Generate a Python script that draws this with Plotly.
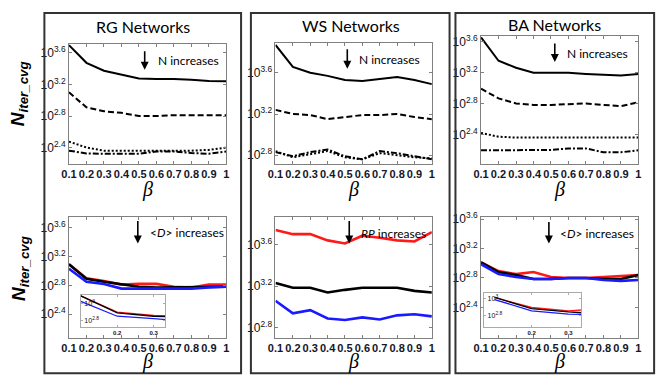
import numpy as np
import plotly.graph_objects as go

W, H = 664, 382

beta = [0.1, 0.2, 0.3, 0.4, 0.5, 0.6, 0.7, 0.8, 0.9, 1.0]
beta_labels = ["0.1", "0.2", "0.3", "0.4", "0.5", "0.6", "0.7", "0.8", "0.9", "1"]

# log10(N_iter_cvg)
rg_solid = [3.70, 3.475, 3.375, 3.325, 3.275, 3.27, 3.27, 3.26, 3.245, 3.24]
rg_dash = [3.10, 2.91, 2.86, 2.84, 2.80, 2.80, 2.81, 2.81, 2.81, 2.81]
rg_dot = [2.475, 2.40, 2.36, 2.36, 2.36, 2.36, 2.36, 2.36, 2.37, 2.40]
rg_dashdot = [2.36, 2.325, 2.32, 2.32, 2.32, 2.35, 2.35, 2.33, 2.32, 2.35]

ws_solid = [3.87, 3.657, 3.60, 3.57, 3.53, 3.52, 3.54, 3.56, 3.53, 3.49]
ws_dash = [3.24, 3.20, 3.19, 3.15, 3.17, 3.19, 3.19, 3.20, 3.17, 3.15]
ws_dot = [2.84, 2.78, 2.81, 2.84, 2.78, 2.76, 2.82, 2.80, 2.78, 2.77]
ws_dashdot = [2.83, 2.79, 2.83, 2.855, 2.79, 2.76, 2.84, 2.82, 2.79, 2.76]

ba_solid = [3.65, 3.35, 3.26, 3.195, 3.195, 3.195, 3.18, 3.17, 3.16, 3.18]
ba_dash = [2.99, 2.865, 2.80, 2.78, 2.78, 2.79, 2.80, 2.78, 2.765, 2.815]
ba_dot = [2.42, 2.37, 2.36, 2.36, 2.36, 2.36, 2.36, 2.36, 2.36, 2.36]
ba_dashdot = [2.195, 2.195, 2.20, 2.20, 2.20, 2.22, 2.22, 2.17, 2.17, 2.195]

rg_red = [3.095, 2.90, 2.86, 2.81, 2.82, 2.82, 2.78, 2.77, 2.81, 2.81]
rg_black = [3.095, 2.89, 2.85, 2.81, 2.78, 2.77, 2.77, 2.77, 2.78, 2.78]
rg_blue = [3.03, 2.85, 2.82, 2.755, 2.755, 2.755, 2.755, 2.755, 2.77, 2.78]

ws_red = [3.74, 3.70, 3.70, 3.64, 3.61, 3.685, 3.665, 3.64, 3.63, 3.72]
ws_black = [3.23, 3.185, 3.185, 3.14, 3.165, 3.185, 3.185, 3.185, 3.155, 3.14]
ws_blue = [3.06, 2.94, 2.97, 2.89, 2.875, 2.90, 2.88, 2.92, 2.93, 2.91]

ba_red = [3.013, 2.893, 2.853, 2.88, 2.813, 2.80, 2.80, 2.813, 2.827, 2.84]
ba_black = [3.013, 2.88, 2.84, 2.787, 2.787, 2.80, 2.80, 2.787, 2.787, 2.84]
ba_blue = [2.987, 2.853, 2.813, 2.787, 2.787, 2.80, 2.80, 2.773, 2.76, 2.773]

main_ticks = [2.4, 2.8, 3.2, 3.6]
inset_ticks = [2.8, 3.0]

AX_COLOR = "#808080"


def dom_x(a, b):
    return [a / W, b / W]


def dom_y(top, bottom):
    return [1 - bottom / H, 1 - top / H]


def sup_label(t):
    return "10<sup>%g</sup>" % t


fig = go.Figure()
layout = {}

# (key, x px, y px, y range in log10)
panels = [
    ("1", (62, 222), (38, 160), (2.19, 3.71)),
    ("2", (272, 431), (37, 160), (2.714, 3.886)),
    ("3", (481, 641), (30, 160), (2.018, 3.663)),
    ("4", (62, 222), (214, 337), (2.07, 3.75)),
    ("5", (272, 431), (214, 337), (2.704, 3.864)),
    ("6", (481, 641), (214, 337), (1.987, 3.627)),
]

for key, xp, yp, yr in panels:
    sfx = "" if key == "1" else key
    layout["xaxis" + sfx] = dict(
        domain=dom_x(*xp), range=[0.1, 1.0], anchor="y" + sfx,
        tickvals=beta, ticktext=beta_labels, tickangle=0,
        tickfont=dict(family="Liberation Sans", size=11, color="#15152a", weight="bold"),
        showline=True, linecolor=AX_COLOR, linewidth=1, mirror="ticks",
        ticks="inside", ticklen=3, tickcolor=AX_COLOR,
        showgrid=False, zeroline=False,
    )
    layout["yaxis" + sfx] = dict(
        domain=dom_y(*yp), type="log", range=list(yr), anchor="x" + sfx,
        tickvals=[10 ** t for t in main_ticks], ticktext=[sup_label(t) for t in main_ticks],
        tickfont=dict(family="Liberation Sans", size=12, color="#111"),
        showline=True, linecolor=AX_COLOR, linewidth=1, mirror="ticks",
        ticks="inside", ticklen=3, tickcolor=AX_COLOR,
        showgrid=False, zeroline=False,
    )

# insets
insets = [
    ("7", (74, 160), (293, 326), (0.1, 0.332), (2.72, 3.11)),
    ("8", (484, 583), (291, 326), (0.071, 0.335), (2.66, 3.07)),
]
for key, xp, yp, xr, yr in insets:
    layout["xaxis" + key] = dict(
        domain=dom_x(*xp), range=list(xr), anchor="y" + key,
        tickvals=[0.1, 0.2, 0.3], ticktext=["0.1", "0.2", "0.3"], tickangle=0,
        tickfont=dict(family="Liberation Sans", size=6, color="#15152a", weight="bold"),
        showline=True, linecolor="#aaaaaa", linewidth=1, mirror="ticks",
        ticks="inside", ticklen=2, tickcolor="#aaaaaa",
        showgrid=False, zeroline=False,
    )
    layout["yaxis" + key] = dict(
        domain=dom_y(*yp), type="log", range=list(yr), anchor="x" + key,
        tickvals=[10 ** t for t in inset_ticks], ticktext=[sup_label(t) for t in inset_ticks],
        tickfont=dict(family="Liberation Sans", size=7, color="#111"),
        ticklabelposition="inside",
        showline=True, linecolor="#aaaaaa", linewidth=1, mirror="ticks",
        ticks="inside", ticklen=2, tickcolor="#aaaaaa",
        showgrid=False, zeroline=False,
    )


def add_line(vals, ax, color="black", dash="solid", width=2.2, x=beta):
    sfx = "" if ax == "1" else ax
    fig.add_trace(go.Scatter(
        x=x, y=10 ** np.array(vals), mode="lines",
        line=dict(color=color, width=width, dash=dash),
        xaxis="x" + sfx, yaxis="y" + sfx, hoverinfo="skip",
    ))


# top row: network size N
for ax, series in (("1", (rg_solid, rg_dash, rg_dot, rg_dashdot)),
                   ("2", (ws_solid, ws_dash, ws_dot, ws_dashdot)),
                   ("3", (ba_solid, ba_dash, ba_dot, ba_dashdot))):
    for vals, dash in zip(series, ("solid", "6px,3px", "2px,2px", "6px,2px,2px,2px")):
        add_line(vals, ax, dash=dash, width=2)

# bottom row
RED, BLUE = "#ff1a1a", "#1a1aff"
for ax, (r, k, b) in (("4", (rg_red, rg_black, rg_blue)),
                      ("5", (ws_red, ws_black, ws_blue)),
                      ("6", (ba_red, ba_black, ba_blue))):
    add_line(r, ax, RED, width=2.6)
    add_line(k, ax, "black", width=2.6)
    add_line(b, ax, BLUE, width=2.6)

for ax, (r, k, b) in (("7", (rg_red, rg_black, rg_blue)), ("8", (ba_red, ba_black, ba_blue))):
    add_line(r, ax, RED, width=1.3)
    add_line(k, ax, "black", width=1.3)
    add_line(b, ax, BLUE, width=1.3)

annotations = []


def px_ann(x, y, text, size=13, family="Lato", xanchor="center", **kw):
    annotations.append(dict(
        x=x / W, y=1 - y / H, xref="paper", yref="paper", text=text, showarrow=False,
        xanchor=xanchor, yanchor="middle", font=dict(family=family, size=size, color="black"), **kw,
    ))


def arrow(x, y_tail, y_tip):
    annotations.append(dict(
        x=x / W, y=1 - y_tip / H, xref="paper", yref="paper", text="",
        showarrow=True, ax=0, ay=-(y_tip - y_tail), arrowhead=2, arrowsize=1,
        arrowwidth=1.6, arrowcolor="black",
    ))


# panel titles
px_ann(137, 20, "RG Networks", size=16)
px_ann(349, 19, "WS Networks", size=16)
px_ann(556, 18, "BA Networks", size=16)

# arrows + labels
arrow(139, 44, 64)
px_ann(150, 54, "N increases", size=12, xanchor="left")
arrow(345, 42, 63)
px_ann(355, 53, "N increases", size=12, xanchor="left")
arrow(556, 36, 56)
px_ann(566, 47, "N increases", size=12, xanchor="left")

arrow(132, 217, 241)
px_ann(142, 230, "&lt;<i>D</i>&gt; increases", size=12, xanchor="left")
arrow(347, 217, 241)
px_ann(357, 231, "<i>RP</i> increases", size=12, xanchor="left")
arrow(550, 218, 241)
px_ann(559, 231, "&lt;<i>D</i>&gt; increases", size=12, xanchor="left")

# beta axis titles
for cx in (142, 351, 561):
    px_ann(cx, 186, "<i>β</i>", size=20, family="Liberation Serif")
    px_ann(cx, 361, "<i>β</i>", size=20, family="Liberation Serif")

# y titles
for cy in (88, 266):
    px_ann(12, cy, "<b><i>N<sub>iter_cvg</sub></i></b>", size=19, family="Liberation Sans",
           textangle=-90)

shapes = []
for x0, x1 in ((37, 237), (247, 449), (455, 657)):
    shapes.append(dict(type="rect", xref="paper", yref="paper",
                       x0=x0 / W, x1=x1 / W, y0=1 - 373 / H, y1=1 - 6 / H,
                       line=dict(color="#333333", width=2), fillcolor="rgba(0,0,0,0)"))

fig.update_layout(
    **layout,
    width=W, height=H,
    margin=dict(l=0, r=0, t=0, b=0),
    paper_bgcolor="white", plot_bgcolor="white",
    showlegend=False,
    annotations=annotations,
    shapes=shapes,
)

fig.write_html("out.html", config={"displayModeBar": False},
               post_script="document.body.style.margin='0';")
